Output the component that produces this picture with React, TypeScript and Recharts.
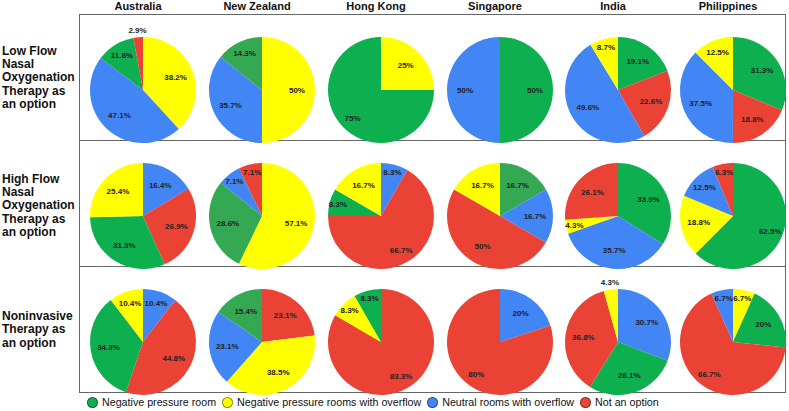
import React from 'react';
import { PieChart, Pie, Cell } from 'recharts';

const countries = ['Australia', 'New Zealand', 'Hong Kong', 'Singapore', 'India', 'Philippines'];

const therapyLabels = [
  ['Low Flow', 'Nasal', 'Oxygenation', 'Therapy as', 'an option'],
  ['High Flow', 'Nasal', 'Oxygenation', 'Therapy as', 'an option'],
  ['Noninvasive', 'Therapy as', 'an option'],
];

const categories = [
  'Negative pressure room',
  'Negative pressure rooms with overflow',
  'Neutral rooms with overflow',
  'Not an option',
];

// each pie: slices clockwise from 12 o'clock as [category index, percent]
const lowFlow = [
  [[1, 38.2], [2, 47.1], [0, 11.8], [3, 2.9]],
  [[1, 50], [2, 35.7], [0, 14.3]],
  [[1, 25], [0, 75]],
  [[0, 50], [2, 50]],
  [[0, 19.1], [3, 22.6], [2, 49.6], [1, 8.7]],
  [[0, 31.3], [3, 18.8], [2, 37.5], [1, 12.5]],
];

const highFlow = [
  [[2, 16.4], [3, 26.9], [0, 31.3], [1, 25.4]],
  [[1, 57.1], [0, 28.6], [2, 7.1], [3, 7.1]],
  [[2, 8.3], [3, 66.7], [0, 8.3], [1, 16.7]],
  [[0, 16.7], [2, 16.7], [3, 50], [1, 16.7]],
  [[0, 33.9], [2, 35.7], [1, 4.3], [3, 26.1]],
  [[0, 62.5], [1, 18.8], [2, 12.5], [3, 6.3]],
];

const noninvasive = [
  [[2, 10.4], [3, 44.8], [0, 34.3], [1, 10.4]],
  [[3, 23.1], [1, 38.5], [2, 23.1], [0, 15.4]],
  [[3, 83.3], [1, 8.3], [0, 8.3]],
  [[2, 20], [3, 80]],
  [[2, 30.7], [0, 28.1], [3, 36.8], [1, 4.3]],
  [[1, 6.7], [0, 20], [3, 66.7], [2, 6.7]],
];

const rows = [lowFlow, highFlow, noninvasive];

const colors = ['#0DAF4E', '#FFFF00', '#4285F4', '#EA4335'];
const altGreen = '#34A853';
const altGreenPies = ['0-1', '1-1', '2-1', '1-3'];

const colX = [138, 257, 376, 495, 613, 728];
const rowY = [85, 211, 337];
const labelY = [78, 206, 330];
const R = 53;
const FONT = '"Liberation Sans", Arial, Helvetica, sans-serif';
const RAD = Math.PI / 180;

const renderLabel = (p: any) => {
  const { cx, cy, midAngle, outerRadius, percent, value } = p;
  const c = Math.cos(-midAngle * RAD);
  const s = Math.sin(-midAngle * RAD);
  let r = outerRadius * 0.66;
  if (percent < 0.05 && Math.abs(s) > 0.7) r = outerRadius + 7;
  else if (percent < 0.09) r = outerRadius * 0.84;
  else if (percent < 0.15 || percent >= 0.6) r = outerRadius * 0.76;
  return (
    <text
      x={cx + r * c}
      y={cy + r * s}
      textAnchor="middle"
      dominantBaseline="central"
      fontSize={8}
      fontWeight="bold"
      fontFamily={FONT}
      fill="#222"
    >
      {`${value}%`}
    </text>
  );
};

export default function App() {
  return (
    <div style={{ position: 'absolute', left: 0, top: 0, width: 789, height: 411, background: '#fff', fontFamily: FONT }}>
      {/* frame */}
      <div style={{ position: 'absolute', left: 79, top: 14, width: 705, height: 377, border: '1.5px solid #666' }} />
      <div style={{ position: 'absolute', left: 79, top: 140, width: 707, height: 0, borderTop: '1.5px solid #666' }} />
      <div style={{ position: 'absolute', left: 79, top: 266, width: 707, height: 0, borderTop: '1.5px solid #666' }} />

      <div style={{ position: 'absolute', left: 0, top: 0 }}>
        <PieChart width={789} height={411}>
          {rows.map((row, ri) =>
            row.map((pie, ci) => {
              const data = pie.map(([cat, v]) => ({ name: categories[cat], value: v, cat }));
              return (
                <Pie
                  key={`${ri}-${ci}`}
                  data={data}
                  dataKey="value"
                  cx={colX[ci]}
                  cy={rowY[ri]}
                  outerRadius={R}
                  startAngle={90}
                  endAngle={-270}
                  stroke="none"
                  label={renderLabel}
                  labelLine={false}
                  isAnimationActive={false}
                >
                  {data.map((d, i) => (
                    <Cell
                      key={i}
                      fill={d.cat === 0 && altGreenPies.includes(`${ri}-${ci}`) ? altGreen : colors[d.cat]}
                    />
                  ))}
                </Pie>
              );
            })
          )}
        </PieChart>
      </div>

      {countries.map((c, i) => (
        <div
          key={c}
          style={{ position: 'absolute', left: colX[i] - 60, width: 120, top: -1, textAlign: 'center', fontSize: 11, fontWeight: 'bold', color: '#111', lineHeight: '14px' }}
        >
          {c}
        </div>
      ))}

      {therapyLabels.map((lines, ri) => (
        <div
          key={ri}
          style={{ position: 'absolute', left: 2, top: labelY[ri] - (lines.length * 13.2) / 2, fontSize: 12, fontWeight: 'bold', color: '#111', lineHeight: '13.2px' }}
        >
          {lines.map((l) => (
            <div key={l}>{l}</div>
          ))}
        </div>
      ))}

      <div style={{ position: 'absolute', left: 87, top: 396, display: 'flex', alignItems: 'center', fontSize: 10.7, color: '#111', whiteSpace: 'nowrap' }}>
        {categories.map((c, i) => (
          <div key={c} style={{ display: 'flex', alignItems: 'center', marginRight: 6 }}>
            <span
              style={{ display: 'inline-block', width: 9, height: 9, borderRadius: '50%', background: colors[i], border: '1px solid rgba(0,0,0,0.45)', marginRight: 4 }}
            />
            <span>{c}</span>
          </div>
        ))}
      </div>
    </div>
  );
}
